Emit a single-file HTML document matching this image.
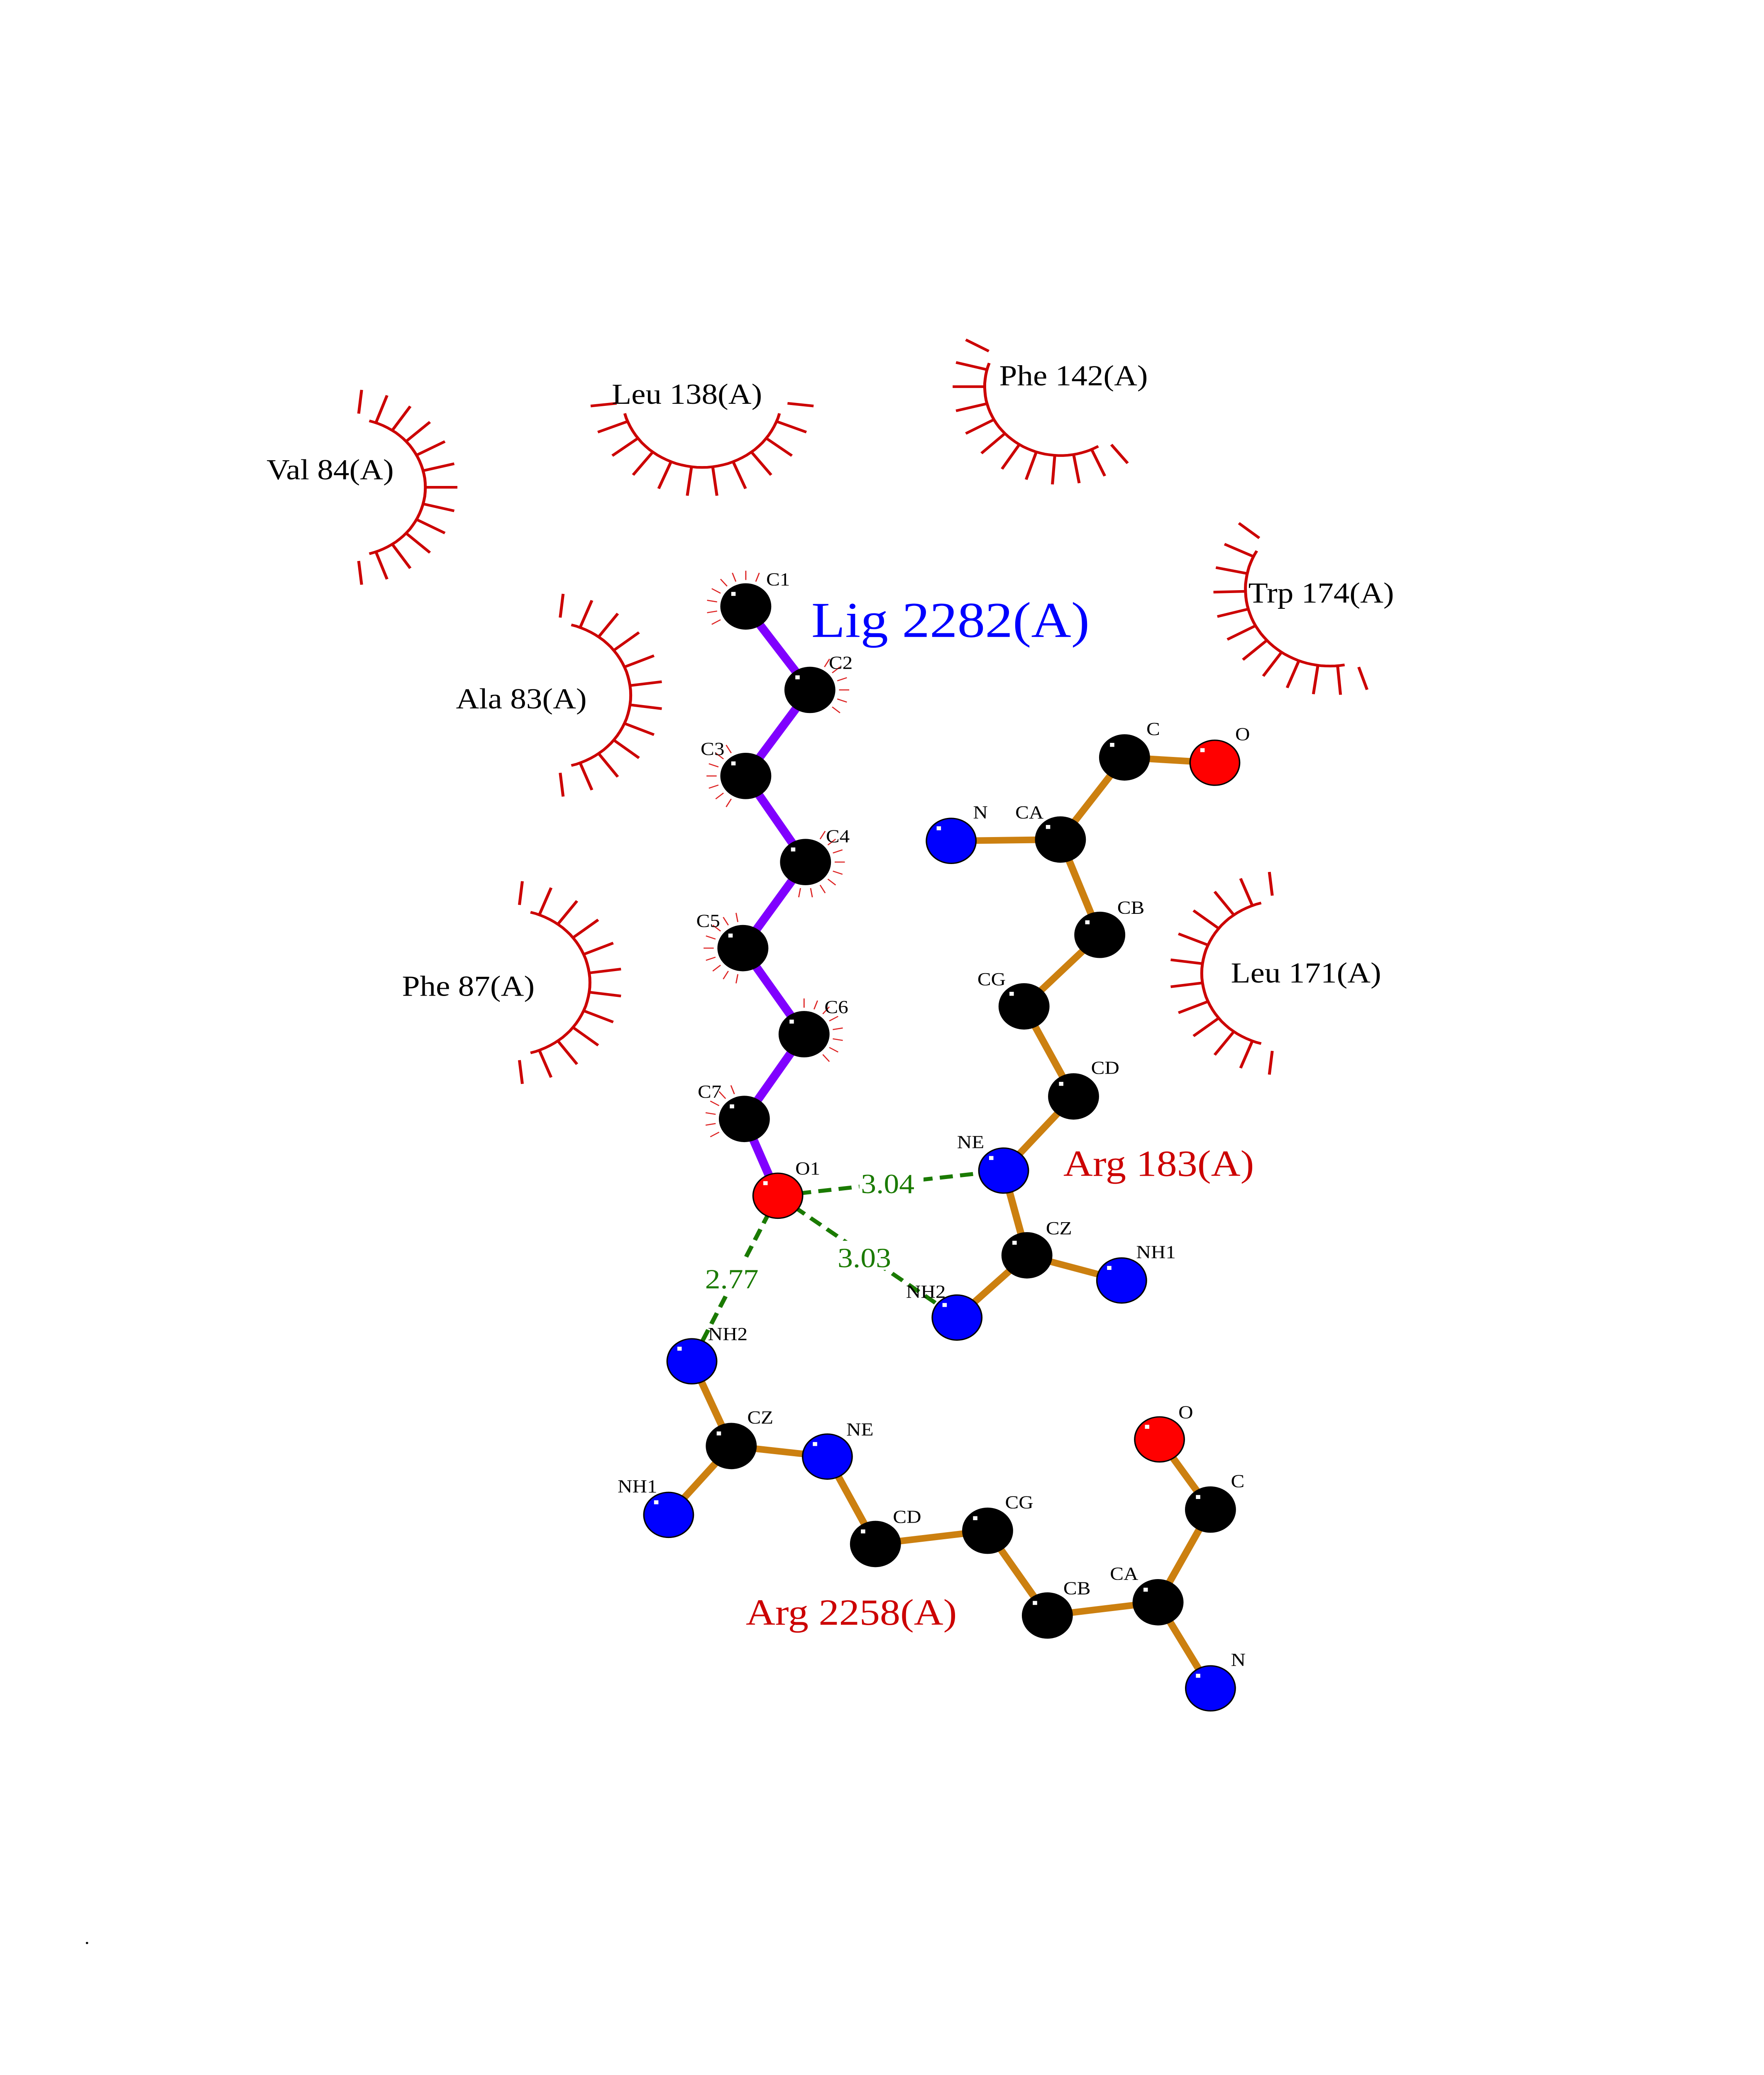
<!DOCTYPE html>
<html><head><meta charset="utf-8"><style>
html,body{margin:0;padding:0;background:#fff;width:100%;height:100%;overflow:hidden;}
svg{display:block;position:fixed;left:0;top:0;width:100%;height:100%;}
text{font-family:"Liberation Serif",serif;}
</style></head><body>
<svg id="s" xmlns="http://www.w3.org/2000/svg" viewBox="0 0 1211 1567" preserveAspectRatio="none">
<rect width="1211" height="1567" fill="#fff"/>
<g id="arcs" stroke="#cc0000" fill="none" stroke-width="2"></g>
<g id="spk" stroke="#dd2222" stroke-width="0.8"></g>
<g stroke="#8000ff" stroke-width="6" stroke-linecap="round">
<polyline fill="none" points="512,458 556,521 512,586 553,651 510,716 552,781 511,845 534,903"/>
</g>
<g stroke="#cc8010" stroke-width="5" fill="none" stroke-linecap="round">
<polyline points="653,635 728,634 772,572 834,576"/>
<polyline points="728,634 755,706 703,760 737,828 689,884 705,948 770,967"/>
<line x1="705" y1="948" x2="657" y2="995"/>
<polyline points="475,1028 502,1092 459,1144"/>
<polyline points="502,1092 568,1100 601,1166 678,1156 719,1220 795,1210 831,1140 796,1087"/>
<line x1="795" y1="1210" x2="831" y2="1275"/>
</g>
<g stroke="#1a7a00" stroke-width="3" stroke-dasharray="9,5" fill="none">
<line x1="534" y1="903" x2="689" y2="884"/>
<line x1="534" y1="903" x2="657" y2="995"/>
<line x1="534" y1="903" x2="475" y2="1028"/>
</g>
<g font-size="21" fill="#1a7a00">
<rect x="590" y="880" width="44" height="22" fill="#fff"/><text x="591" y="901">3.04</text>
<rect x="574" y="937" width="44" height="22" fill="#fff"/><text x="575" y="957">3.03</text>
<rect x="483" y="953" width="44" height="22" fill="#fff"/><text x="484" y="973">2.77</text>
</g>
<g id="atoms" stroke="#000" stroke-width="1"></g>
<g font-size="14" fill="#000">
<text x="526" y="442">C1</text><text x="569" y="505">C2</text><text x="481" y="570">C3</text>
<text x="567" y="636">C4</text><text x="478" y="700">C5</text><text x="566" y="765">C6</text>
<text x="479" y="829">C7</text><text x="546" y="887">O1</text>
<text x="668" y="618">N</text><text x="697" y="618">CA</text><text x="787" y="555">C</text><text x="848" y="559">O</text>
<text x="767" y="690">CB</text><text x="671" y="744">CG</text><text x="749" y="811">CD</text>
<text x="657" y="867">NE</text><text x="718" y="932">CZ</text><text x="780" y="950">NH1</text><text x="622" y="980">NH2</text>
<text x="486" y="1012">NH2</text><text x="513" y="1075">CZ</text><text x="424" y="1127">NH1</text><text x="581" y="1084">NE</text>
<text x="613" y="1150">CD</text><text x="690" y="1139">CG</text><text x="730" y="1204">CB</text><text x="762" y="1193">CA</text>
<text x="845" y="1123">C</text><text x="809" y="1071">O</text><text x="845" y="1258">N</text>
</g>
<g font-size="22" fill="#000">
<text x="183" y="362">Val 84(A)</text><text x="420" y="305">Leu 138(A)</text><text x="686" y="291">Phe 142(A)</text>
<text x="857" y="455">Trp 174(A)</text><text x="313" y="535">Ala 83(A)</text><text x="276" y="752">Phe 87(A)</text>
<text x="845" y="742">Leu 171(A)</text>
</g>
<text x="557" y="481" font-size="38" fill="#0000ff">Lig 2282(A)</text>
<text x="730" y="888" font-size="28" fill="#cc0000">Arg 183(A)</text>
<text x="512" y="1227" font-size="28" fill="#cc0000">Arg 2258(A)</text>
<text x="58" y="1468" font-size="14" fill="#000">.</text>
</svg>
<script>
var NS="http://www.w3.org/2000/svg";
function el(p,t,a){var e=document.createElementNS(NS,t);for(var k in a)e.setAttribute(k,a[k]);p.appendChild(e);return e;}
var arcs=document.getElementById('arcs');
var A=[[240,368,52,-75,75,13],[482,298,55,15,165,12],[728,292,52,60,200,12],[913,445,58,80,210,12],[378,525,55,-75,75,12],[350,742,55,-75,75,12],[880,735,55,105,255,12]];
A.forEach(function(a){var cx=a[0],cy=a[1],r=a[2],a0=a[3]*Math.PI/180,a1=a[4]*Math.PI/180,n=a[5];
var d="";for(var i=0;i<=40;i++){var t=a0+(a1-a0)*i/40;d+=(i?"L":"M")+(cx+r*Math.cos(t)).toFixed(1)+","+(cy+r*Math.sin(t)).toFixed(1);}
el(arcs,'path',{d:d});
var e0=a0-0.15,e1=a1+0.15;
for(var i=0;i<n;i++){var t=e0+(e1-e0)*i/(n-1);var r1=(t<a0||t>a1)?r+4:r;
el(arcs,'line',{x1:cx+r1*Math.cos(t),y1:cy+r1*Math.sin(t),x2:cx+(r+22)*Math.cos(t),y2:cy+(r+22)*Math.sin(t)});}});
var spk=document.getElementById('spk');
var S=[[512,458,150,300],[556,521,-60,40],[512,586,120,240],[553,651,-60,100],[510,716,100,260],[552,781,-90,60],[511,845,150,260]];
S.forEach(function(s){for(var g=s[2];g<=s[3];g+=20){var t=g*Math.PI/180;
el(spk,'line',{x1:s[0]+20*Math.cos(t),y1:s[1]+20*Math.sin(t),x2:s[0]+27*Math.cos(t),y2:s[1]+27*Math.sin(t)});}});
var atoms=document.getElementById('atoms');
var K="#000",B="#0000ff",R="#ff0000";
var P=[[512,458,K],[556,521,K],[512,586,K],[553,651,K],[510,716,K],[552,781,K],[511,845,K],[534,903,R],
[653,635,B],[728,634,K],[772,572,K],[834,576,R],[755,706,K],[703,760,K],[737,828,K],[689,884,B],[705,948,K],[770,967,B],[657,995,B],
[475,1028,B],[502,1092,K],[459,1144,B],[568,1100,B],[601,1166,K],[678,1156,K],[719,1220,K],[795,1210,K],[831,1140,K],[796,1087,R],[831,1275,B]];
P.forEach(function(p){el(atoms,'circle',{cx:p[0],cy:p[1],r:17,fill:p[2]});
el(atoms,'rect',{x:p[0]-10,y:p[1]-11,width:3,height:3,fill:'#fff',stroke:'none'});});
</script>
</body></html>
